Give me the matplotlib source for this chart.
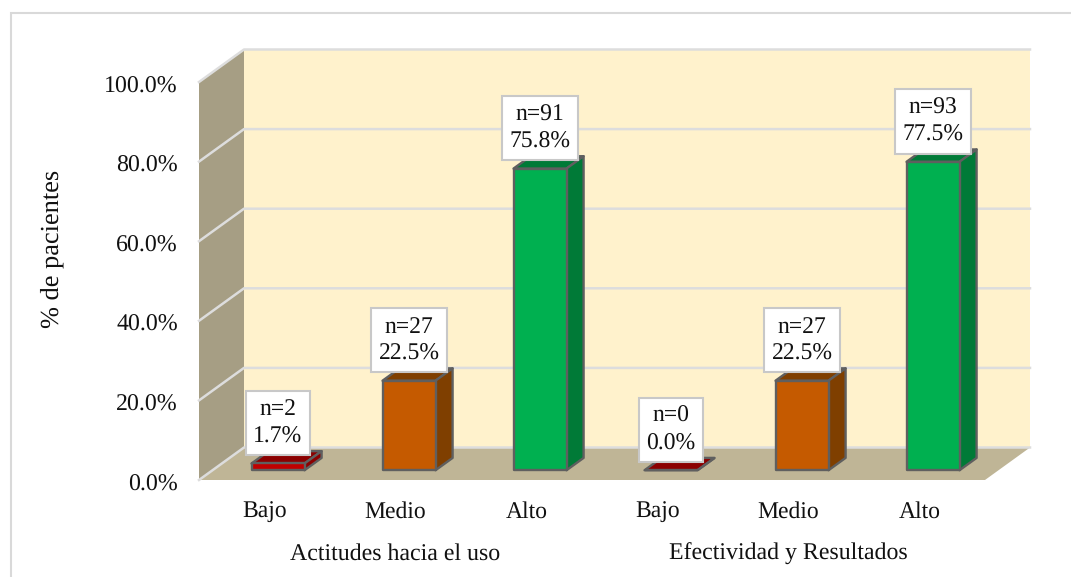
#!/usr/bin/env python3
import matplotlib
matplotlib.use("Agg")
import matplotlib.pyplot as plt
from matplotlib.patches import Polygon, Rectangle
from matplotlib.transforms import ScaledTranslation

categorias = ["Bajo", "Medio", "Alto", "Bajo", "Medio", "Alto"]
grupos = ["Actitudes hacia el uso", "Efectividad y Resultados"]
porcentajes = [1.7, 22.5, 75.8, 0.0, 22.5, 77.5]
conteos = [2, 27, 91, 0, 27, 93]
ticks_y = [0, 20, 40, 60, 80, 100]

colores_frente = ["#C00000", "#C55A00", "#00B050"] * 2
colores_lado = ["#8B0000", "#7F3F00", "#007A37"] * 2

W, H = 1071, 577
plt.rcParams["font.family"] = ["Liberation Serif", "DejaVu Serif"]
plt.rcParams["text.hinting"] = "no_hinting"
fig = plt.figure(figsize=(W / 100, H / 100), dpi=100)

# cuadro exterior del grafico
fig.add_artist(Rectangle((10.5 / W, -0.01), (W + 20) / W, 1 - 12.5 / H + 0.01, transform=fig.transFigure,
                         facecolor="white", edgecolor="#D9D9D9", linewidth=1.5, zorder=-1))

# el plano frontal del "3D" de Excel
ax = fig.add_axes([199 / W, 1 - 480 / H, 786 / W, 398 / H])
ax.set_xlim(0, 6)
ax.set_ylim(0, 100)
ax.patch.set_visible(False)
for s in ax.spines.values():
    s.set_visible(False)

# profundidad en unidades de datos (45 px, 32.5 px)
dx = 45 / 131
dy = 32.5 / 3.98


def caja(x0, x1, y0, y1, d0, d1, frente, lado):
    # prisma: cara frontal, superior y lateral
    xa, xb = x0 + d0 * dx, x1 + d0 * dx
    ya, yb = y0 + d0 * dy, y1 + d0 * dy
    ox, oy = (d1 - d0) * dx, (d1 - d0) * dy
    estilo = dict(edgecolor="#5F5F5F", linewidth=1.7, joinstyle="round", clip_on=False, zorder=4)
    ax.add_patch(Polygon([(xa, yb), (xb, yb), (xb + ox, yb + oy), (xa + ox, yb + oy)], facecolor=lado, **estilo))
    ax.add_patch(Polygon([(xb, ya), (xb + ox, ya + oy), (xb + ox, yb + oy), (xb, yb)], facecolor=lado, **estilo))
    ax.add_patch(Polygon([(xa, ya), (xb, ya), (xb, yb), (xa, yb)], facecolor=frente, **estilo))


# paredes y piso
ax.add_patch(Polygon([(dx, dy), (6 + dx, dy), (6 + dx, 100 + dy), (dx, 100 + dy)],
                     facecolor="#FFF2CC", edgecolor="none", clip_on=False, zorder=1))
ax.add_patch(Polygon([(0, 0), (dx, dy), (dx, 100 + dy), (0, 100)],
                     facecolor="#A69E84", edgecolor="none", clip_on=False, zorder=1))
ax.add_patch(Polygon([(0, 0), (6, 0), (6 + dx, dy), (dx, dy)],
                     facecolor="#BFB596", edgecolor="none", clip_on=False, zorder=1))

# lineas de la grilla
for t in ticks_y:
    ax.plot([0, dx, 6 + dx], [t, t + dy, t + dy], color="#DDDDDD", linewidth=1.8, clip_on=False, zorder=2)

# barras
ancho = 53 / 131
for i, v in enumerate(porcentajes):
    x0 = i + 0.5 - ancho / 2
    caja(x0, x0 + ancho, 0, v, 0.3, 0.68, colores_frente[i], colores_lado[i])
    # etiqueta de datos
    ax.annotate(f"n={conteos[i]}\n{v:.1f}%", xy=(i + 0.5 + 0.3 * dx, v + 0.3 * dy), xytext=(0, 29),
                textcoords="offset points", ha="center", va="center", fontsize=17, color="#111111",
                linespacing=1.33, zorder=6, annotation_clip=False,
                bbox=dict(boxstyle="square,pad=0.32", facecolor="white",
                          edgecolor="#C8C8C8", linewidth=1.5))

ax.set_yticks(ticks_y)
ax.set_yticklabels([f"{t:.1f}%" for t in ticks_y], fontsize=17.2, color="#111111")
ax.set_xticks([i + 0.5 for i in range(6)])
ax.set_xticklabels(categorias, fontsize=17, color="#111111")
ax.tick_params(length=0, axis="y", pad=15.2)
ax.tick_params(length=0, axis="x", pad=15.5)
ax.set_ylabel("% de pacientes", fontsize=19, color="#111111", labelpad=29, y=0.58)

# las etiquetas del eje y van 2 px mas abajo en el original
for etiqueta in ax.get_yticklabels():
    etiqueta.set_transform(etiqueta.get_transform() + ScaledTranslation(0, -2 / 100, fig.dpi_scale_trans))

ax.text(1.5, -18.7, grupos[0], ha="center", va="center", fontsize=17.2, color="#111111")
ax.text(4.5, -18.7, grupos[1], ha="center", va="center", fontsize=17.2, color="#111111")

fig.savefig("out.png", dpi=100)
